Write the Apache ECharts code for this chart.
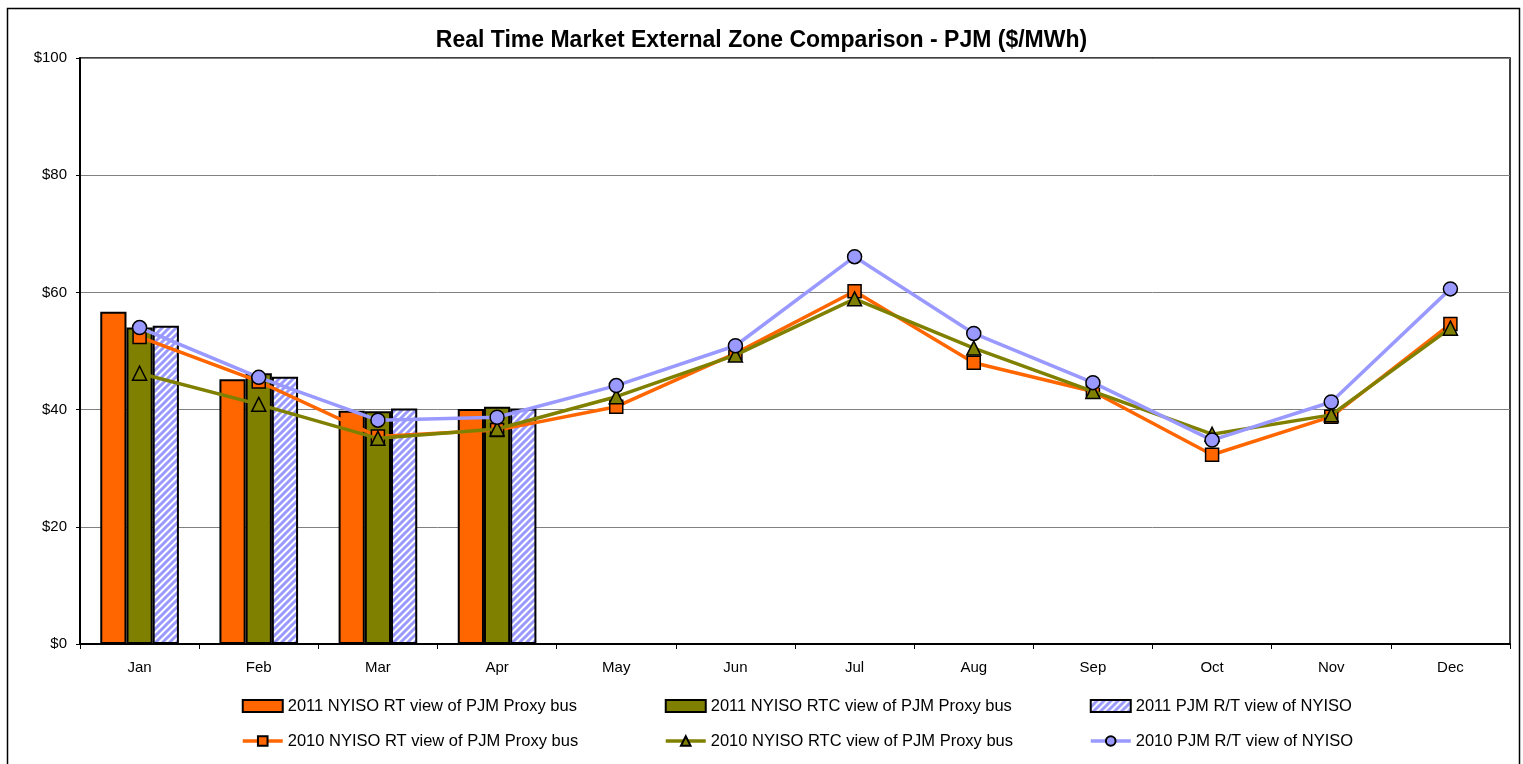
<!DOCTYPE html>
<html>
<head>
<meta charset="utf-8">
<script src="https://cdn.jsdelivr.net/npm/echarts@6/dist/echarts.min.js"></script>
<style>
html,body{margin:0;padding:0;background:#fff;}
#chart{width:1523px;height:764px;}
</style>
</head>
<body>
<div id="chart"></div>
<script>
var months = ['Jan','Feb','Mar','Apr','May','Jun','Jul','Aug','Sep','Oct','Nov','Dec'];
var yTicks = [0, 20, 40, 60, 80, 100];
var rt2011  = [56.7, 45.2, 39.8, 40.1];
var rtc2011 = [54.0, 46.2, 39.7, 40.5];
var pjm2011 = [54.3, 45.6, 40.2, 40.2];
var rt2010  = [52.4, 44.8, 35.4, 36.5, 40.5, 49.6, 60.2, 48.0, 43.1, 32.3, 38.8, 54.6];
var rtc2010 = [46.2, 40.9, 35.1, 36.7, 42.2, 49.3, 58.9, 50.5, 43.1, 35.8, 39.1, 53.9];
var pjm2010 = [54.0, 45.5, 38.2, 38.7, 44.1, 50.9, 66.1, 53.0, 44.6, 34.8, 41.3, 60.6];
var names = [
  '2011 NYISO RT view of PJM Proxy bus',
  '2011 NYISO RTC view of PJM Proxy bus',
  '2011 PJM R/T view of NYISO',
  '2010 NYISO RT view of PJM Proxy bus',
  '2010 NYISO RTC view of PJM Proxy bus',
  '2010 PJM R/T view of NYISO'
];

var ORANGE = '#FF6600', OLIVE = '#808000', BLUE = '#9999FF';

// hatched pattern
var s = 7;
var cv = document.createElement('canvas');
cv.width = s; cv.height = s;
var cx = cv.getContext('2d');
cx.fillStyle = '#fff'; cx.fillRect(0,0,s,s);
cx.strokeStyle = BLUE; cx.lineWidth = 3;
cx.beginPath();
cx.moveTo(-s*0.5, s*0.5); cx.lineTo(s*0.5, -s*0.5);
cx.moveTo(0, s); cx.lineTo(s, 0);
cx.moveTo(s*0.5, s*1.5); cx.lineTo(s*1.5, s*0.5);
cx.stroke();
var hatch = {image: cv, repeat: 'repeat'};

var chart = echarts.init(document.getElementById('chart'), null, {renderer:'canvas'});
var FONT = 'Liberation Sans, Arial, sans-serif';

function legendCol(left, barName, lineName) {
  return {
    orient: 'vertical', left: left, top: 697, padding: 0,
    itemWidth: 40, itemHeight: 12, itemGap: 17,
    data: [
      {name: barName, icon: 'rect'},
      {name: lineName, lineStyle: {width: 3.5}}
    ],
    textStyle: {fontFamily: FONT, fontSize: 16.5, color: '#000', lineHeight: 18},
    selectedMode: false
  };
}

chart.setOption({
  animation: false,
  backgroundColor: '#fff',
  title: {
    text: 'Real Time Market External Zone Comparison - PJM ($/MWh)',
    left: 'center', top: 24,
    textStyle: {fontFamily: FONT, fontSize: 23, fontWeight: 'bold', color: '#000'}
  },
  legend: [
    legendCol(241, names[0], names[3]),
    legendCol(664, names[1], names[4]),
    legendCol(1089, names[2], names[5])
  ],
  grid: {
    left: 80, right: 13, top: 58, bottom: 120,
    show: true, borderColor: '#000', borderWidth: 1.5, backgroundColor: '#fff'
  },
  xAxis: {
    type: 'category', data: months, boundaryGap: true,
    axisLine: {lineStyle: {color: '#000', width: 2}},
    axisTick: {show: true, length: 5, lineStyle: {color: '#000', width: 1}},
    axisLabel: {fontFamily: FONT, fontSize: 15, color: '#000', margin: 16}
  },
  yAxis: {
    type: 'value', min: 0, max: 100, interval: 20,
    axisLine: {show: true, lineStyle: {color: '#000', width: 2}},
    axisTick: {show: true, length: 4, lineStyle: {color: '#000'}},
    axisLabel: {
      fontFamily: FONT, fontSize: 15, color: '#000', margin: 13,
      formatter: function (v) { return yTicks.indexOf(v) >= 0 ? '$' + v : ''; }
    },
    splitLine: {lineStyle: {color: '#808080', width: 1}}
  },
  graphic: [{
    type: 'rect', silent: true, z: 100,
    shape: {x: 7.5, y: 8.5, width: 1512, height: 770},
    style: {fill: null, stroke: '#000', lineWidth: 1.5}
  }],
  series: [
    {name: names[0], type: 'bar', data: rt2011, barGap: '0%', barCategoryGap: '34%',
     itemStyle: {color: ORANGE, borderColor: '#000', borderWidth: 2}},
    {name: names[1], type: 'bar', data: rtc2011, barGap: '0%', barCategoryGap: '34%',
     itemStyle: {color: OLIVE, borderColor: '#000', borderWidth: 2}},
    {name: names[2], type: 'bar', data: pjm2011, barGap: '0%', barCategoryGap: '34%',
     itemStyle: {color: hatch, borderColor: '#000', borderWidth: 2}},
    {name: names[3], type: 'line', data: rt2010, symbol: 'rect', symbolSize: 13,
     lineStyle: {color: ORANGE, width: 3.5},
     itemStyle: {color: ORANGE, borderColor: '#000', borderWidth: 1.5}, z: 3},
    {name: names[4], type: 'line', data: rtc2010, symbol: 'triangle', symbolSize: 14,
     lineStyle: {color: OLIVE, width: 3.5},
     itemStyle: {color: OLIVE, borderColor: '#000', borderWidth: 1.5}, z: 4},
    {name: names[5], type: 'line', data: pjm2010, symbol: 'circle', symbolSize: 14,
     lineStyle: {color: BLUE, width: 3.5},
     itemStyle: {color: BLUE, borderColor: '#000', borderWidth: 1.5}, z: 5}
  ]
});
</script>
</body>
</html>
